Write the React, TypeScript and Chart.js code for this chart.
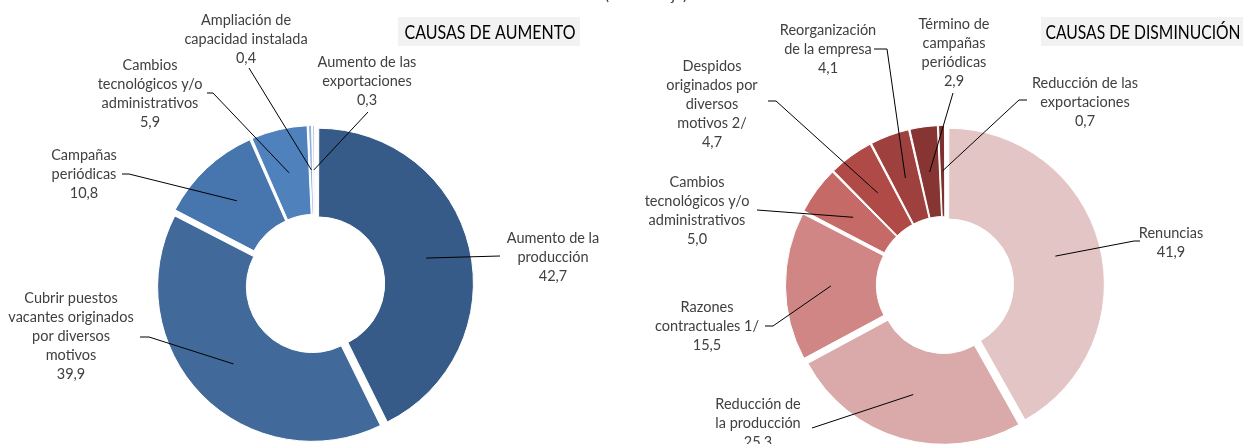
import React, { useEffect, useRef } from 'react';
import { Chart, registerables } from 'chart.js';

Chart.register(...registerables);

// ---------- data ----------
const increaseLabels: string[][] = [
  ['Aumento de la', 'producción'],
  ['Cubrir puestos', 'vacantes originados', 'por diversos', 'motivos'],
  ['Campañas', 'periódicas'],
  ['Cambios', 'tecnológicos y/o', 'administrativos'],
  ['Ampliación de', 'capacidad instalada'],
  ['Aumento de las', 'exportaciones'],
];
const increaseValues = [42.7, 39.9, 10.8, 5.9, 0.4, 0.3];

const decreaseLabels: string[][] = [
  ['Renuncias'],
  ['Reducción de', 'la producción'],
  ['Razones', 'contractuales 1/'],
  ['Cambios', 'tecnológicos y/o', 'administrativos'],
  ['Despidos', 'originados por', 'diversos', 'motivos 2/'],
  ['Reorganización', 'de la empresa'],
  ['Término de', 'campañas', 'periódicas'],
  ['Reducción de las', 'exportaciones'],
];
const decreaseValues = [41.9, 25.3, 15.5, 5.0, 4.7, 4.1, 2.9, 0.7];

const increaseTitle = 'CAUSAS DE AUMENTO';
const decreaseTitle = 'CAUSAS DE DISMINUCIÓN';
const subtitle = '(Porcentaje)';

// ---------- styles ----------
const increaseColors = ['#365B88', '#416A9B', '#4775AD', '#4F81BD', '#95AED8', '#B9C8E5'];
const decreaseColors = ['#E4C5C6', '#DAA9AA', '#CF8684', '#C56A67', '#B04A47', '#9E403E', '#873533', '#7E302E'];

// ---------- layout (label text centre x, first line y) ----------
const increaseTextPos = [
  [553, 238],
  [71, 298],
  [84, 155],
  [150, 65],
  [246, 20],
  [367, 62],
];
// leader elbow [x, y, optional horizontal end x]
const increaseLeaders: (number | null)[][] = [
  [500, 256, null],
  [149, 337, 140],
  [129, 174, 122],
  [213, 93, 207],
  [249, 68, null],
  [368, 112, null],
];
const decreaseTextPos = [
  [1171, 233],
  [758, 404],
  [707, 307],
  [697, 182],
  [712, 66],
  [828, 30],
  [954, 24],
  [1085, 83],
];
const decreaseLeaders: (number | null)[][] = [
  [1134, 241, 1140],
  [812, 428, null],
  [773, 326, 765],
  [757, 210, null],
  [776, 101, 768],
  [887, 49, 874],
  [953, 93, null],
  [1019, 100, 1027],
];

const W = 1243;
const H = 444;
const EXPLODE = 5.5;
const LINE_H = 19;
const LABEL_FONT = '14.5px Lato';
const TITLE_FONT = '19px Lato';

const fmt = (v: number) => v.toFixed(1).replace('.', ',');

function makePlugin(
  labels: string[][],
  values: number[],
  textPos: number[][],
  leaders: (number | null)[][],
  title: { text: string; box: number[]; cx: number; by: number; maxW: number },
  drawSubtitle: boolean
) {
  return {
    id: 'customLabels',
    afterDatasetsDraw(chart: any) {
      const ctx: CanvasRenderingContext2D = chart.ctx;
      const meta = chart.getDatasetMeta(0);
      ctx.save();
      meta.data.forEach((arc: any, i: number) => {
        const p = arc.getProps(['x', 'y', 'startAngle', 'endAngle', 'innerRadius', 'outerRadius'], true);
        const mid = (p.startAngle + p.endAngle) / 2;
        const r = (p.innerRadius + p.outerRadius) / 2 + EXPLODE;
        const ax = p.x + Math.cos(mid) * r;
        const ay = p.y + Math.sin(mid) * r;
        const [ex, ey, hx] = leaders[i];
        ctx.beginPath();
        ctx.moveTo(ax, ay);
        ctx.lineTo(ex as number, ey as number);
        if (hx != null) ctx.lineTo(hx, ey as number);
        ctx.strokeStyle = '#000000';
        ctx.lineWidth = 1;
        ctx.stroke();

        const lines = [...labels[i], fmt(values[i])];
        ctx.fillStyle = '#404040';
        ctx.font = LABEL_FONT;
        ctx.textAlign = 'center';
        ctx.textBaseline = 'middle';
        lines.forEach((t, k) => ctx.fillText(t, textPos[i][0], textPos[i][1] + k * LINE_H));
      });

      // title box
      const [bx, by, bw, bh] = title.box;
      ctx.fillStyle = '#F2F2F2';
      ctx.fillRect(bx, by, bw, bh);
      ctx.fillStyle = '#000000';
      ctx.font = TITLE_FONT;
      ctx.textAlign = 'center';
      ctx.textBaseline = 'alphabetic';
      ctx.fillText(title.text, title.cx, title.by, title.maxW);

      if (drawSubtitle) {
        ctx.fillStyle = '#404040';
        ctx.font = '16px Lato';
        ctx.textAlign = 'center';
        ctx.textBaseline = 'alphabetic';
        ctx.fillText(subtitle, 646, 0, 97);
      }
      ctx.restore();
    },
  };
}

function offsetFor(values: number[]) {
  const total = values.reduce((a, b) => a + b, 0);
  return (c: any) => {
    const v = values[c.dataIndex] ?? 0;
    const circ = (v / total) * 2 * Math.PI;
    return (EXPLODE * 4) / (2 - Math.sin(Math.min(Math.PI, circ)));
  };
}

function Donut(props: {
  labels: string[][];
  values: number[];
  colors: string[];
  padding: { left: number; right: number; top: number; bottom: number };
  radius: number;
  cutout: string;
  plugin: any;
}) {
  const ref = useRef<HTMLCanvasElement | null>(null);
  useEffect(() => {
    if (!ref.current) return;
    const chart = new Chart(ref.current, {
      type: 'doughnut',
      data: {
        labels: props.labels.map((l) => l.join(' ')),
        datasets: [
          {
            data: props.values,
            backgroundColor: props.colors,
            borderColor: '#FFFFFF',
            borderWidth: 1,
            offset: offsetFor(props.values) as any,
            clip: false as any,
          },
        ],
      },
      options: {
        responsive: false,
        animation: false,
        events: [],
        radius: props.radius,
        cutout: props.cutout,
        layout: { padding: props.padding },
        plugins: { legend: { display: false }, tooltip: { enabled: false } },
      } as any,
      plugins: [props.plugin],
    });
    return () => chart.destroy();
  }, []);
  return (
    <canvas
      ref={ref}
      width={W}
      height={H}
      style={{ position: 'absolute', left: 0, top: 0, width: W, height: H }}
    />
  );
}

export default function App() {
  const leftPlugin = makePlugin(
    increaseLabels,
    increaseValues,
    increaseTextPos,
    increaseLeaders,
    { text: increaseTitle, box: [398, 17, 182, 29], cx: 490, by: 38.5, maxW: 171 },
    true
  );
  const rightPlugin = makePlugin(
    decreaseLabels,
    decreaseValues,
    decreaseTextPos,
    decreaseLeaders,
    { text: decreaseTitle, box: [1041, 17, 210, 29], cx: 1143, by: 38.5, maxW: 195 },
    false
  );
  return (
    <div style={{ position: 'fixed', left: 0, top: 0, width: W, height: H, background: '#FFFFFF' }}>
      <Donut
        labels={increaseLabels}
        values={increaseValues}
        colors={increaseColors}
        padding={{ left: 0, right: W - 630, top: 124, bottom: 0 }}
        radius={153}
        cutout="42%"
        plugin={leftPlugin}
      />
      <Donut
        labels={decreaseLabels}
        values={decreaseValues}
        colors={decreaseColors}
        padding={{ left: 647, right: 0, top: 126, bottom: 0 }}
        radius={154}
        cutout="41%"
        plugin={rightPlugin}
      />
    </div>
  );
}
